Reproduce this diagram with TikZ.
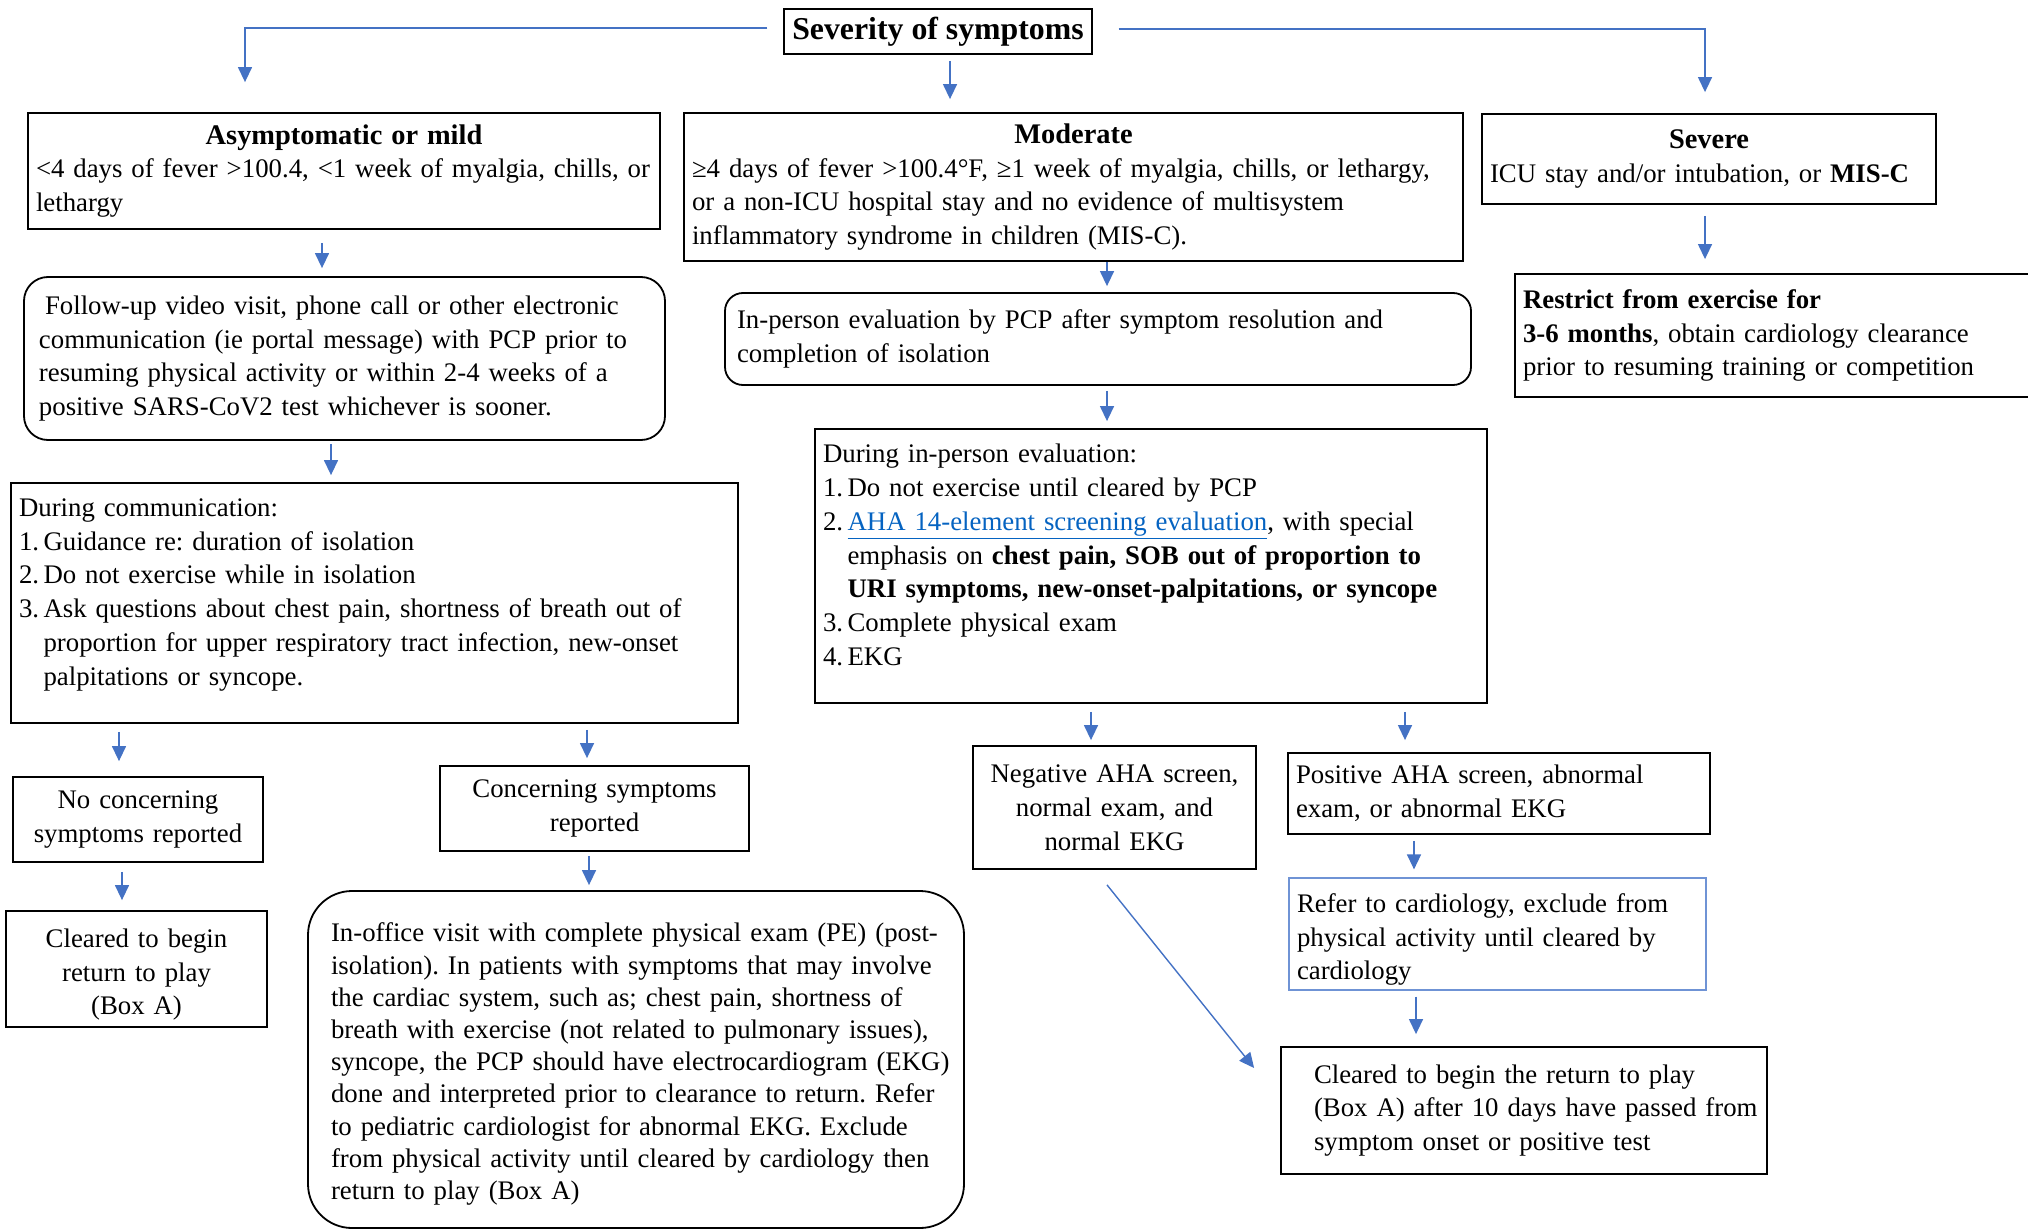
\documentclass[tikz,border=0pt]{standalone}
\usepackage{fontspec}
\setmainfont{Liberation Serif}
\usetikzlibrary{arrows.meta,positioning}
\definecolor{flowblue}{HTML}{4472C4}
\definecolor{linkblue}{HTML}{0563C1}
\definecolor{referblue}{HTML}{6F93D5}
\newcommand{\boxfont}{\fontsize{13.4}{16.9}\selectfont\frenchspacing}
\newcommand{\headfont}{\fontsize{14.2}{17}\selectfont\bfseries}
\newcommand{\weblink}[1]{\textcolor{linkblue}{\underline{#1}}}

\begin{document}
\begin{tikzpicture}[
  x=0.5pt, y=-0.5pt,
  every node/.style={font=\boxfont},
  box/.style={draw, line width=0.9pt, inner xsep=4pt, inner ysep=2pt, align=left,
    execute at begin node={\rightskip=-6pt plus 1fil\relax}},
  cbox/.style={draw, line width=0.9pt, inner xsep=4pt, inner ysep=2pt, align=center},
  flow/.style={draw=flowblue, line width=0.7pt, -{Triangle[length=7.5pt,width=7pt]}},
]
\useasboundingbox (0,0) rectangle (2028,1230);

% Top: severity split
\node[cbox, font=\fontsize{15.9}{18}\selectfont\bfseries, minimum width=152pt, minimum height=22.5pt] (sev) at (938,31.5) {Severity of symptoms};

\node[box, minimum width=316pt, minimum height=58pt, text width=316pt-8pt] (asym) at (344,171)
  {{\centering\headfont Asymptomatic or mild\par}
   <4 days of fever >100.4, <1 week of myalgia, chills, or\\
   lethargy\par};
\node[box, minimum width=389.5pt, minimum height=74pt, text width=389.5pt-8pt] (mod) at (1073.5,187)
  {{\centering\headfont Moderate\par}
   ≥4 days of fever >100.4°F, ≥1 week of myalgia, chills, or lethargy,\\
   or a non-ICU hospital stay and no evidence of multisystem\\
   inflammatory syndrome in children (MIS-C).\par};
\node[box, minimum width=227pt, minimum height=45pt, text width=227pt-8pt] (sevr) at (1709,159)
  {{\centering\headfont Severe\par}
   ICU stay and/or intubation, or \textbf{MIS-C}\par};

% Severe branch
\node[box, minimum width=262.5pt, minimum height=61.5pt, text width=262.5pt-8pt] (restr) at (1777.5,335.5)
  {\textbf{Restrict from exercise for}\\
   \textbf{3-6 months}, obtain cardiology clearance\\
   prior to resuming training or competition\par};

% Mild branch
\node[box, rounded corners=12pt, minimum width=320.5pt, minimum height=81.5pt, text width=320.5pt-8pt] (follow) at (344.5,358.5)
  {\leftskip=3.5pt\hspace*{3pt}Follow-up video visit, phone call or other electronic\\
   communication (ie portal message) with PCP prior to\\
   resuming physical activity or within 2-4 weeks of a\\
   positive SARS-CoV2 test whichever is sooner.\par};
\node[box, minimum width=363.5pt, minimum height=120pt, text width=363.5pt-8pt] (comm) at (374.5,603)
  {During communication:\\
   1.\,Guidance re: duration of isolation\\
   2.\,Do not exercise while in isolation\\
   3.\,Ask questions about chest pain, shortness of breath out of\\
   \hphantom{3.\,}proportion for upper respiratory tract infection, new-onset\\
   \hphantom{3.\,}palpitations or syncope.\rule[-11pt]{0pt}{11pt}\par};
\node[cbox, minimum width=125pt, minimum height=42.5pt, text width=125pt-8pt] (nocon) at (138,819.5)
  {No concerning\\symptoms reported};
\node[cbox, minimum width=154.5pt, minimum height=42.5pt, text width=154.5pt-8pt] (concern) at (594.5,808.5)
  {Concerning symptoms\\reported};
\node[cbox, minimum width=130.5pt, minimum height=58pt, text width=130.5pt-8pt] (clear1) at (136.5,969)
  {\\[-2pt]Cleared to begin\\return to play\\(Box A)};
\node[box, rounded corners=22pt, minimum width=328pt, minimum height=168.5pt, text width=328pt-8pt,
  font=\fontsize{13.4}{16.1}\selectfont\frenchspacing] (office) at (636,1059.5)
  {\\[-2pt]\leftskip=7.5pt In-office visit with complete physical exam (PE) (post-\\
   isolation). In patients with symptoms that may involve\\
   the cardiac system, such as; chest pain, shortness of\\
   breath with exercise (not related to pulmonary issues),\\
   syncope, the PCP should have electrocardiogram (EKG)\\
   done and interpreted prior to clearance to return. Refer\\
   to pediatric cardiologist for abnormal EKG. Exclude\\
   from physical activity until cleared by cardiology then\\
   return to play (Box A)\par};

% Moderate branch
\node[box, rounded corners=9pt, minimum width=373pt, minimum height=46pt, text width=373pt-8pt] (inper) at (1098,339)
  {\leftskip=2pt In-person evaluation by PCP after symptom resolution and\\
   completion of isolation\par};
\node[box, minimum width=336pt, minimum height=137pt, text width=336pt-8pt] (during) at (1151,566)
  {During in-person evaluation:\\
   1.\,Do not exercise until cleared by PCP\\
   2.\,\weblink{AHA 14-element screening evaluation}, with special\\
   \hphantom{2.\,}emphasis on \textbf{chest pain, SOB out of proportion to}\\
   \hphantom{2.\,}\textbf{URI symptoms, new-onset-palpitations, or syncope}\\
   3.\,Complete physical exam\\
   4.\,EKG\rule[-11.3pt]{0pt}{11.3pt}\par};
\node[cbox, minimum width=141.5pt, minimum height=61.5pt, text width=141.5pt-8pt] (neg) at (1114.5,807.5)
  {Negative AHA screen,\\normal exam, and\\normal EKG};
\node[box, minimum width=211pt, minimum height=40.5pt, text width=211pt-8pt] (pos) at (1499,793.5)
  {Positive AHA screen, abnormal\\exam, or abnormal EKG\par};
\node[box, draw=referblue, line width=0.6pt, minimum width=208.5pt, minimum height=56pt, text width=208.5pt-8pt] (refer) at (1497.5,934)
  {\\[-2pt]Refer to cardiology, exclude from\\physical activity until cleared by\\cardiology\par};
\node[box, minimum width=243pt, minimum height=63.5pt, text width=243pt-8pt] (clear2) at (1524,1110.5)
  {\leftskip=12.5pt Cleared to begin the return to play\\
   (Box A) after 10 days have passed from\\
   symptom onset or positive test\par};

% Connectors from the top box
\draw[flow] ([xshift=-8pt,yshift=1.75pt]sev.west) -| ([xshift=-49.5pt,yshift=15pt]asym.north);
\draw[flow] ([xshift=6pt,yshift=-3pt]sev.south) -- ([xshift=-61.75pt,yshift=6.5pt]mod.north);
\draw[flow] ([xshift=13pt,yshift=1.25pt]sev.east) -| ([xshift=-2pt,yshift=10.5pt]sevr.north);
\draw[flow] ([xshift=-2pt,yshift=-5.5pt]sevr.south) -- ([xshift=-36.25pt,yshift=7pt]restr.north);

% Mild column
\draw[flow] ([xshift=-11pt,yshift=-6.5pt]asym.south) -- ([xshift=-11.25pt,yshift=4pt]follow.north);
\draw[flow] ([xshift=-6.75pt,yshift=-1.5pt]follow.south) -- ([xshift=-21.75pt,yshift=3.5pt]comm.north);
\draw[flow] ([xshift=-127.75pt,yshift=-4pt]comm.south) -- ([xshift=-9.5pt,yshift=7.5pt]nocon.north);
\draw[flow] ([xshift=106.25pt,yshift=-3pt]comm.south) -- ([xshift=-3.75pt,yshift=3.5pt]concern.north);
\draw[flow] ([xshift=-8pt,yshift=-4.5pt]nocon.south) -- ([xshift=-7.25pt,yshift=5pt]clear1.north);
\draw[flow] ([xshift=-2.75pt,yshift=-2pt]concern.south) -- ([xshift=-23.5pt,yshift=2.5pt]office.north);

% Moderate column
\draw[flow] ([xshift=16.75pt]mod.south) -- ([xshift=4.5pt,yshift=3pt]inper.north);
\draw[flow] ([xshift=4.5pt,yshift=-2.5pt]inper.south) -- ([xshift=-22pt,yshift=3.5pt]during.north);
\draw[flow] ([xshift=-30pt,yshift=-4pt]during.south) -- ([xshift=-11.75pt,yshift=2.5pt]neg.north);
\draw[flow] ([xshift=127pt,yshift=-4pt]during.south) -- ([xshift=-47pt,yshift=6pt]pos.north);
\draw[flow] ([xshift=-42.5pt,yshift=-3pt]pos.south) -- ([xshift=-41.75pt,yshift=4pt]refer.north);
\draw[flow] ([xshift=-40.75pt,yshift=-3pt]refer.south) -- ([xshift=-54pt,yshift=6pt]clear2.north);
\draw[flow] ([xshift=-3.75pt,yshift=-7.5pt]neg.south) -- ([xshift=-13pt,yshift=21.25pt]clear2.west);

\end{tikzpicture}
\end{document}
